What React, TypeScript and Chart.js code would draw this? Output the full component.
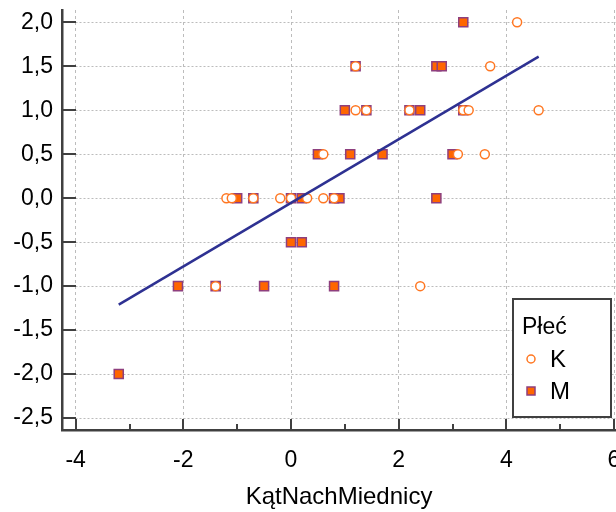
import React, { useEffect, useRef } from 'react';
import { Chart, registerables } from 'chart.js';

Chart.register(...registerables);

// Data: Płeć K (female)
const kX = [4.2, 1.2, 3.7, 1.2, 1.4, 2.2, 3.2, 3.3, 4.6, 0.6, 3.1, 3.6, -1.2, -1.1, -0.7, -0.2, 0.0, 0.3, 0.6, 0.8, -1.4, 2.4];
const kY = [2.0, 1.5, 1.5, 1.0, 1.0, 1.0, 1.0, 1.0, 1.0, 0.5, 0.5, 0.5, 0.0, 0.0, 0.0, 0.0, 0.0, 0.0, 0.0, 0.0, -1.0, -1.0];
// Data: Płeć M (male)
const mX = [3.2, 1.2, 2.7, 2.8, 1.0, 1.4, 2.2, 2.4, 3.2, 0.5, 1.1, 1.7, 3.0, -1.0, -0.7, 0.0, 0.2, 0.8, 0.9, 2.7, 0.0, 0.2, -2.1, -1.4, -0.5, 0.8, -3.2];
const mY = [2.0, 1.5, 1.5, 1.5, 1.0, 1.0, 1.0, 1.0, 1.0, 0.5, 0.5, 0.5, 0.5, 0.0, 0.0, 0.0, 0.0, 0.0, 0.0, 0.0, -0.5, -0.5, -1.0, -1.0, -1.0, -1.0, -2.0];
// Fitted line endpoints
const fitX = [-3.2, 4.6];
const fitY = [-1.21, 1.61];

const xTicks = [-4, -2, 0, 2, 4, 6];
const xMinorTicks = [-3, -1, 1, 3, 5];
const yTicks = [-2.5, -2.0, -1.5, -1.0, -0.5, 0.0, 0.5, 1.0, 1.5, 2.0];

const xTitle = 'KątNachMiednicy';
const legendTitle = 'Płeć';
const seriesNames = ['K', 'M'];

const FONT = "'Liberation Sans', Arial, sans-serif";
const AXIS_COLOR = '#404040';
const GRID_COLOR = '#bcbcbc';
const K_COLOR = '#ff7722';
const M_FILL = '#ff6600';
const M_BORDER = '#8e3f7e';
const LINE_COLOR = '#2e3192';

const tickMarksPlugin = {
  id: 'tickMarks',
  afterDraw(chart: any) {
    const { ctx, chartArea, scales } = chart;
    const xs = scales.x;
    const ys = scales.y;
    ctx.save();
    ctx.strokeStyle = AXIS_COLOR;
    ctx.lineWidth = 2;
    yTicks.forEach((v) => {
      const py = Math.round(ys.getPixelForValue(v));
      ctx.beginPath();
      ctx.moveTo(chartArea.left, py);
      ctx.lineTo(chartArea.left + 14, py);
      ctx.stroke();
    });
    xTicks.forEach((v) => {
      const px = Math.round(xs.getPixelForValue(v));
      ctx.beginPath();
      ctx.moveTo(px, chartArea.bottom);
      ctx.lineTo(px, chartArea.bottom - 11);
      ctx.stroke();
    });
    xMinorTicks.forEach((v) => {
      const px = Math.round(xs.getPixelForValue(v));
      ctx.beginPath();
      ctx.moveTo(px, chartArea.bottom);
      ctx.lineTo(px, chartArea.bottom - 6);
      ctx.stroke();
    });
    ctx.restore();
  },
};

const boxLegendPlugin = {
  id: 'boxLegend',
  afterDraw(chart: any) {
    const { ctx } = chart;
    const bx = 513;
    const by = 299;
    const bw = 98;
    const bh = 118;
    ctx.save();
    ctx.fillStyle = '#ffffff';
    ctx.fillRect(bx, by, bw, bh);
    ctx.strokeStyle = AXIS_COLOR;
    ctx.lineWidth = 2;
    ctx.strokeRect(bx, by, bw, bh);
    ctx.fillStyle = '#000000';
    ctx.font = `23px ${FONT}`;
    ctx.textBaseline = 'middle';
    ctx.textAlign = 'left';
    ctx.fillText(legendTitle, bx + 9, by + 29);
    // K item
    const mx = bx + 18;
    const ky = by + 60;
    ctx.beginPath();
    ctx.arc(mx, ky, 4, 0, Math.PI * 2);
    ctx.fillStyle = '#ffffff';
    ctx.fill();
    ctx.strokeStyle = K_COLOR;
    ctx.lineWidth = 1.5;
    ctx.stroke();
    ctx.fillStyle = '#000000';
    ctx.font = `24px ${FONT}`;
    ctx.fillText(seriesNames[0], bx + 37, ky + 1);
    // M item
    const my = by + 92;
    ctx.fillStyle = M_FILL;
    ctx.fillRect(mx - 4, my - 4, 8, 8);
    ctx.strokeStyle = M_BORDER;
    ctx.lineWidth = 1.5;
    ctx.strokeRect(mx - 4, my - 4, 8, 8);
    ctx.fillStyle = '#000000';
    ctx.fillText(seriesNames[1], bx + 37, my + 1);
    ctx.restore();
  },
};

export default function App() {
  const canvasRef = useRef<HTMLCanvasElement | null>(null);

  useEffect(() => {
    if (!canvasRef.current) return;
    const chart = new Chart(canvasRef.current, {
      type: 'scatter',
      data: {
        datasets: [
          {
            type: 'line',
            label: 'fit',
            data: fitX.map((x, i) => ({ x, y: fitY[i] })),
            borderColor: LINE_COLOR,
            borderWidth: 2.5,
            pointRadius: 0,
            fill: false,
            order: 0,
          } as any,
          {
            label: seriesNames[0],
            data: kX.map((x, i) => ({ x, y: kY[i] })),
            pointStyle: 'circle',
            pointRadius: 4.5,
            backgroundColor: '#ffffff',
            borderColor: K_COLOR,
            borderWidth: 1.5,
            order: 1,
          },
          {
            label: seriesNames[1],
            data: mX.map((x, i) => ({ x, y: mY[i] })),
            pointStyle: 'rect',
            pointRadius: 6.4,
            backgroundColor: M_FILL,
            borderColor: M_BORDER,
            borderWidth: 1.5,
            order: 2,
          },
        ],
      },
      options: {
        animation: false,
        responsive: false,
        layout: { padding: { top: 10, right: 24, left: 0, bottom: 0 } },
        plugins: {
          legend: { display: false },
          tooltip: { enabled: false },
        },
        scales: {
          x: {
            type: 'linear',
            min: -4.254,
            max: 6.037,
            afterBuildTicks: (scale: any) => {
              scale.ticks = xTicks.map((v) => ({ value: v }));
            },
            afterFit: (scale: any) => {
              scale.height = 82;
              scale.paddingLeft = 0;
              scale.paddingRight = 0;
            },
            ticks: {
              padding: 17,
              color: '#000000',
              font: { family: FONT, size: 23 },
              callback: (v: any) => String(v),
            },
            grid: {
              color: GRID_COLOR,
              drawTicks: false,
              lineWidth: 1,
            },
            border: { display: true, color: AXIS_COLOR, width: 2.5, dash: [3, 3] },
            title: {
              display: true,
              text: xTitle,
              color: '#000000',
              font: { family: FONT, size: 24 },
              padding: { top: 0, bottom: 0 },
            },
          },
          y: {
            type: 'linear',
            min: -2.636,
            max: 2.14,
            afterBuildTicks: (scale: any) => {
              scale.ticks = yTicks.map((v) => ({ value: v }));
            },
            afterFit: (scale: any) => {
              scale.width = 62;
              scale.paddingTop = 0;
              scale.paddingBottom = 0;
            },
            ticks: {
              padding: 9,
              color: '#000000',
              font: { family: FONT, size: 23 },
              callback: (v: any) => Number(v).toFixed(1).replace('.', ','),
            },
            grid: {
              color: GRID_COLOR,
              drawTicks: false,
              lineWidth: 1,
            },
            border: { display: true, color: AXIS_COLOR, width: 2.5, dash: [2, 2] },
          },
        },
      } as any,
      plugins: [tickMarksPlugin, boxLegendPlugin],
    });
    return () => chart.destroy();
  }, []);

  return (
    <div style={{ position: 'fixed', left: 0, top: 0, width: 616, height: 512, overflow: 'hidden', background: '#ffffff' }}>
      <canvas ref={canvasRef} width={640} height={512} style={{ display: 'block' }} />
    </div>
  );
}
